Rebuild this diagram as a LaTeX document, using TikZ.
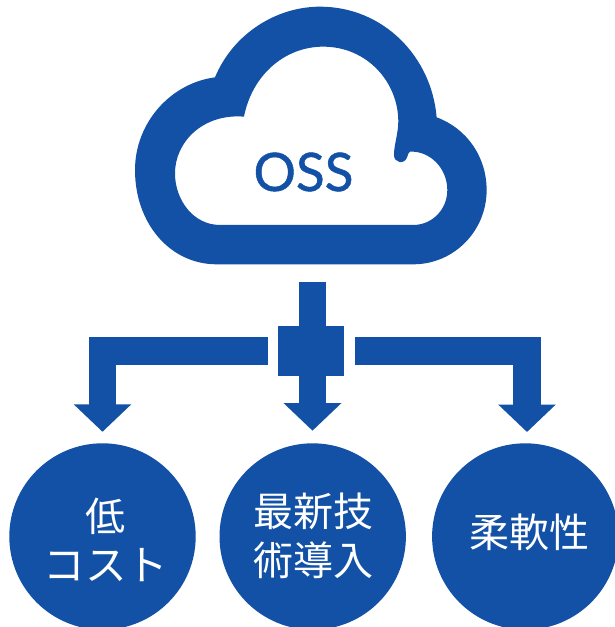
\documentclass[tikz,border=0pt]{standalone}
\usepackage{fontspec}
\setmainfont{Lato}
\newfontfamily\ossfont[FakeBold=1]{Lato}
\newfontfamily\cjk{Noto Sans CJK JP}
\usetikzlibrary{arrows.meta}
\definecolor{ossblue}{HTML}{1251A6}
\tikzset{
  circ/.style={circle,fill=ossblue,minimum size=186.4pt,inner sep=0pt},
  lbl/.style={text=white,font=\cjk\fontsize{40pt}{49pt}\selectfont,align=center,inner sep=0pt},
  blockarrow/.style={draw=ossblue,line width=27.6pt,line join=miter,-{Triangle[width=56pt,length=27.5pt]}},
}
\begin{document}
\begin{tikzpicture}[x=1pt,y=-1pt]
\useasboundingbox (0,0) rectangle (615,627);
\clip (0,0) rectangle (615,627);
\fill[white] (0,0) rectangle (615,627);
% cloud
\begin{scope}[shift={(120,0)},x=0.3333pt,y=-0.3333pt]
\fill[ossblue,even odd rule]
  (285,232) .. controls (340,100) and (470,20) .. (600,20)
  .. controls (790,20) and (935,170) .. (950,352)
  .. controls (1040,385) and (1100,470) .. (1100,570)
  .. controls (1100,695) and (1000,793) .. (880,793)
  -- (290,793)
  .. controls (150,793) and (45,670) .. (45,510)
  .. controls (45,370) and (150,250) .. (285,232) -- cycle
  (372,350) .. controls (395,230) and (490,140) .. (610,140)
  .. controls (740,140) and (835,245) .. (835,365)
  .. controls (835,400) and (822,435) .. (822,465)
  .. controls (822,490) and (855,495) .. (862,470)
  .. controls (864,462) and (866,458) .. (870,455)
  .. controls (930,452) and (982,505) .. (982,570)
  .. controls (982,630) and (935,675) .. (880,675)
  -- (300,675)
  .. controls (220,675) and (165,600) .. (165,520)
  .. controls (165,425) and (250,340) .. (372,350) -- cycle;
\end{scope}
\node[text=ossblue,font=\ossfont\fontsize{53pt}{53pt}\selectfont,inner sep=0pt] (oss) at (303.5,172) {OSS};
% circles
\node[circ] (a) at (102.5,536.5) {};
\node[circ] (b) at (312.7,536.5) {};
\node[circ] (c) at (525.3,536.5) {};
\node[lbl] (la) at (106,539.5) {低\\{\fontsize{41.5pt}{49pt}\selectfont コスト}};
\node[lbl] (lb) at (313,535.5) {最新技\\術導入};
\node[lbl] (lc) at (529,532.5) {柔軟性};
% connectors
\coordinate (base) at (312.5,282);
\coordinate (tipb) at (312.5,430.7);
\coordinate (tipc) at (527,443.3);
\node[fill=ossblue,minimum width=65.4pt,minimum height=50pt,inner sep=0pt] (hub) at (311,351) {};
\draw[blockarrow] (base) -- (tipb);
\draw[blockarrow,shorten <=10.6pt,shorten >=11.3pt] (hub.west) -| (a.north);
\draw[blockarrow,shorten <=10.6pt,shorten >=11.3pt] (hub.east) -| (tipc);
\end{tikzpicture}
\end{document}
